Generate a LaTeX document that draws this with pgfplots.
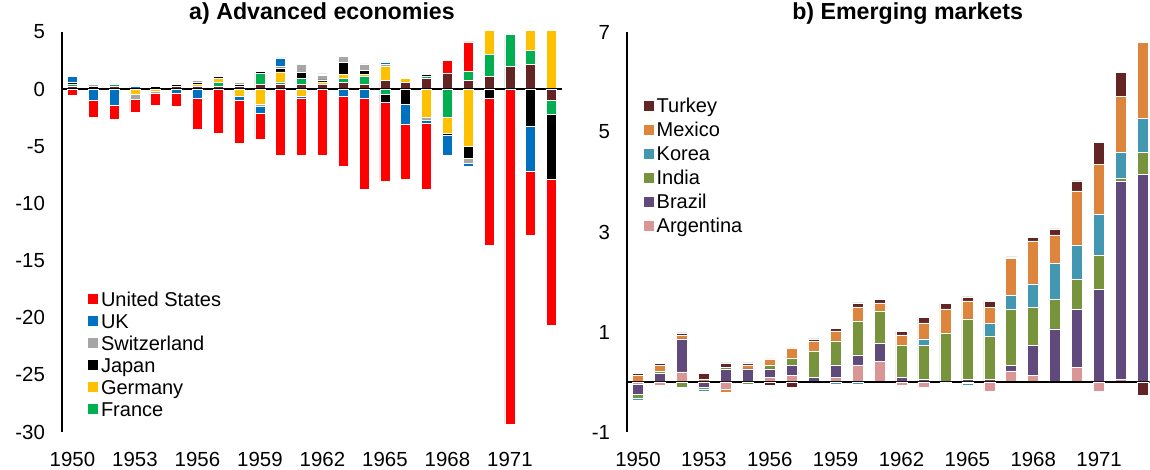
\documentclass[border=0pt]{standalone}
\usepackage{fontspec}
\setmainfont{Liberation Sans}
\usepackage{pgfplots}
\usepackage{pgfplotstable}
\pgfplotsset{compat=1.18}

\definecolor{cUS}{RGB}{255,0,0}
\definecolor{cUK}{RGB}{0,112,192}
\definecolor{cCH}{RGB}{166,166,166}
\definecolor{cJP}{RGB}{0,0,0}
\definecolor{cDE}{RGB}{255,192,0}
\definecolor{cFR}{RGB}{0,176,80}
\definecolor{cOth}{RGB}{99,37,35}
\definecolor{cTR}{RGB}{99,37,35}
\definecolor{cMX}{RGB}{221,132,61}
\definecolor{cKR}{RGB}{67,152,177}
\definecolor{cIN}{RGB}{119,147,60}
\definecolor{cBR}{RGB}{96,74,123}
\definecolor{cAR}{RGB}{217,150,148}

% advanced economies
\pgfplotstableread{
year  oth    fr     de     jp     ch     uk     us
1950  0.26   0.17   0      0.17   0      0.52  -0.55
1951  0      0      0      0.25   0.15  -0.95  -1.55
1952  0.26   0.17   0      0      0     -1.45  -1.2
1953  0      0     -0.45   0     -0.45   0.26  -1.1
1954  0      0     -0.2    0.26  -0.15   0     -1.1
1955  0.26   0      0      0.17   0     -0.38  -1.08
1956  0.26   0      0.17   0.17   0.17  -0.76  -2.77
1957  0.26   0.35   0.3    0.17   0.17   0     -3.88
1958  0.26   0     -0.61   0.17   0.17  -0.35  -3.8
1959  0.44   0.93  -1.31   0.15  -0.17  -0.64  -2.25
1960  0.44   0.2    0.87   0.35   0.15   0.73  -5.83
1961  0.44   0.52  -0.61   0.5    0.73  -0.15  -5.07
1962  0.44   0      0.2    0.17   0.38   0.15  -5.83
1963  0.61   0.35   0.32   1.08   0.52  -0.61  -6.1
1964  0.44   0.7    0.17   0.35   0.55  -0.76  -8.0
1965  0.79  -0.44   1.22  -0.67   0.17   0.17  -6.97
1966  0.61   0      0.35  -1.31   0     -1.8   -4.8
1967  0.96   0.17  -2.5    0.17  -0.2   -0.3   -5.78
1968  1.37  -2.5   -1.37  -0.15   0     -1.8    1.17
1969  0.79   0.73  -4.96  -1.05  -0.5   -0.2    2.62
1970  1.14   1.92   2.3   -0.76   0      0     -12.9
1971  2.0    2.8    0      0      0      0     -29.3
1972  2.19   1.22   1.8   -3.24   0     -3.93  -5.6
1973 -0.96  -1.22   5.3   -5.72   0      0     -12.75
}\adv

% emerging markets
\pgfplotstableread{
year  ar     br     in     kr     mx     tr
1950 -0.05  -0.2   -0.07  -0.04   0.13   0.04
1951 -0.07   0.17   0.05   0      0.11   0.04
1952  0.2    0.66  -0.1    0      0.07   0.05
1953  0     -0.11  -0.03  -0.05   0.05   0.12
1954 -0.15   0.26   0.03   0     -0.05   0.09
1955  0      0.26  -0.05   0      0.08   0.04
1956  0.09   0.17   0.08   0      0.12  -0.07
1957  0.13   0.2    0.15   0      0.2   -0.11
1958  0      0.09   0.52   0      0.2    0.05
1959  0.09   0.25   0.48  -0.05   0.2    0.05
1960  0.34   0.2    0.68  -0.05   0.28   0.08
1961  0.41   0.36   0.65   0      0.16   0.07
1962 -0.07   0.09   0.65   0      0.2    0.07
1963 -0.1    0.05   0.69   0.12   0.32   0.11
1964  0     -0.03   0.98   0      0.48   0.11
1965 -0.03   0.05   1.21  -0.03   0.36   0.08
1966 -0.18   0.05   0.87   0.25   0.32   0.12
1967  0.22   0.11   1.12   0.28   0.74   0.03
1968  0.13   0.6    0.76   0.47   0.86   0.07
1969  0      1.06   0.59   0.72   0.57   0.12
1970  0.29   1.16   0.61   0.68   1.08   0.2
1971 -0.18   1.85   0.69   0.81   1.0    0.44
1972  0.05   3.97   0.06   0.51   1.12   0.48
1973  0      4.15   0.44   0.68   1.52  -0.27
}\emg

\pgfplotsset{
  panel/.style={
    scale only axis, height=200pt,
    ybar stacked,
    axis lines*=left,
    x axis line style={draw=none},
    y axis line style={line width=1pt},
    major tick length=0pt,
    xtick={1950,1953,...,1971},
    xticklabel style={yshift=-6.5pt},
    yticklabel style={xshift=-5pt},
    /pgf/number format/assume math mode=true,
    /pgf/number format/1000 sep={},
    tick label style={font=\fontsize{10.2}{12}\selectfont},
    title style={font=\bfseries\fontsize{11.6}{13}\selectfont, anchor=base, inner sep=0pt, yshift=0.2pt},
    legend image code/.code={\fill[#1] (0pt,-2.75pt) rectangle (5.5pt,2.75pt);},
    reverse legend,
  },
  adv/.style={panel, width=250pt, xmin=1949.5, xmax=1973.5, ymin=-30, ymax=5,
    ytick={-30,-25,...,5}, bar width=0.48},
  emg/.style={panel, width=261.3pt, xmin=1949.5, xmax=1973.3, ymin=-1, ymax=7,
    ytick={-1,1,3,5,7}, bar width=0.5, at={(282.5pt,0pt)}},
  seg/.style={fill=#1, draw=white, line width=0.3pt},
}

\begin{document}
\begin{tikzpicture}
\useasboundingbox (-31pt,-19pt) rectangle (544pt,216pt);

% a) positive parts
\begin{axis}[adv,
  title={a) Advanced economies}, title style={at={(0.52,1)}},
  legend style={at={(0.05,0.361)}, anchor=north west, draw=none, fill=none, inner sep=0pt,
    font=\fontsize{10}{12}\selectfont,
    nodes={inner xsep=1pt, inner ysep=1.9pt, text height=7.2pt, text depth=0pt}},
  legend cell align=left]
\addplot[seg=cOth, forget plot] table[x=year, y expr={max(\thisrow{oth},0)}] {\adv};
\addplot[seg=cFR] table[x=year, y expr={max(\thisrow{fr},0)}] {\adv};
\addlegendentry{France}
\addplot[seg=cDE] table[x=year, y expr={max(\thisrow{de},0)}] {\adv};
\addlegendentry{Germany}
\addplot[seg=cJP] table[x=year, y expr={max(\thisrow{jp},0)}] {\adv};
\addlegendentry{Japan}
\addplot[seg=cCH] table[x=year, y expr={max(\thisrow{ch},0)}] {\adv};
\addlegendentry{Switzerland}
\addplot[seg=cUK] table[x=year, y expr={max(\thisrow{uk},0)}] {\adv};
\addlegendentry{UK}
\addplot[seg=cUS] table[x=year, y expr={max(\thisrow{us},0)}] {\adv};
\addlegendentry{United States}
\end{axis}

% a) negative parts
\begin{axis}[adv, hide axis]
\addplot[seg=cOth] table[x=year, y expr={min(\thisrow{oth},0)}] {\adv};
\addplot[seg=cFR] table[x=year, y expr={min(\thisrow{fr},0)}] {\adv};
\addplot[seg=cDE] table[x=year, y expr={min(\thisrow{de},0)}] {\adv};
\addplot[seg=cJP] table[x=year, y expr={min(\thisrow{jp},0)}] {\adv};
\addplot[seg=cCH] table[x=year, y expr={min(\thisrow{ch},0)}] {\adv};
\addplot[seg=cUK] table[x=year, y expr={min(\thisrow{uk},0)}] {\adv};
\addplot[seg=cUS] table[x=year, y expr={min(\thisrow{us},0)}] {\adv};
\draw[black, line width=1pt] (axis cs:1949.5,0) -- (axis cs:1973.5,0);
\end{axis}

% b) positive parts
\begin{axis}[emg,
  title={b) Emerging markets}, title style={at={(0.537,1)}},
  legend style={at={(0.03,0.8475)}, anchor=north west, draw=none, fill=none, inner sep=0pt,
    font=\fontsize{10}{12}\selectfont,
    nodes={inner xsep=1pt, inner ysep=2.4pt, text height=7.2pt, text depth=0pt}},
  legend cell align=left]
\addplot[seg=cAR] table[x=year, y expr={max(\thisrow{ar},0)}] {\emg};
\addlegendentry{Argentina}
\addplot[seg=cBR] table[x=year, y expr={max(\thisrow{br},0)}] {\emg};
\addlegendentry{Brazil}
\addplot[seg=cIN] table[x=year, y expr={max(\thisrow{in},0)}] {\emg};
\addlegendentry{India}
\addplot[seg=cKR] table[x=year, y expr={max(\thisrow{kr},0)}] {\emg};
\addlegendentry{Korea}
\addplot[seg=cMX] table[x=year, y expr={max(\thisrow{mx},0)}] {\emg};
\addlegendentry{Mexico}
\addplot[seg=cTR] table[x=year, y expr={max(\thisrow{tr},0)}] {\emg};
\addlegendentry{Turkey}
\end{axis}

% b) negative parts
\begin{axis}[emg, hide axis]
\addplot[seg=cAR] table[x=year, y expr={min(\thisrow{ar},0)}] {\emg};
\addplot[seg=cBR] table[x=year, y expr={min(\thisrow{br},0)}] {\emg};
\addplot[seg=cIN] table[x=year, y expr={min(\thisrow{in},0)}] {\emg};
\addplot[seg=cKR] table[x=year, y expr={min(\thisrow{kr},0)}] {\emg};
\addplot[seg=cMX] table[x=year, y expr={min(\thisrow{mx},0)}] {\emg};
\addplot[seg=cTR] table[x=year, y expr={min(\thisrow{tr},0)}] {\emg};
\draw[black, line width=1pt] (axis cs:1949.5,0) -- (axis cs:1973.3,0);
\end{axis}
\end{tikzpicture}
\end{document}
